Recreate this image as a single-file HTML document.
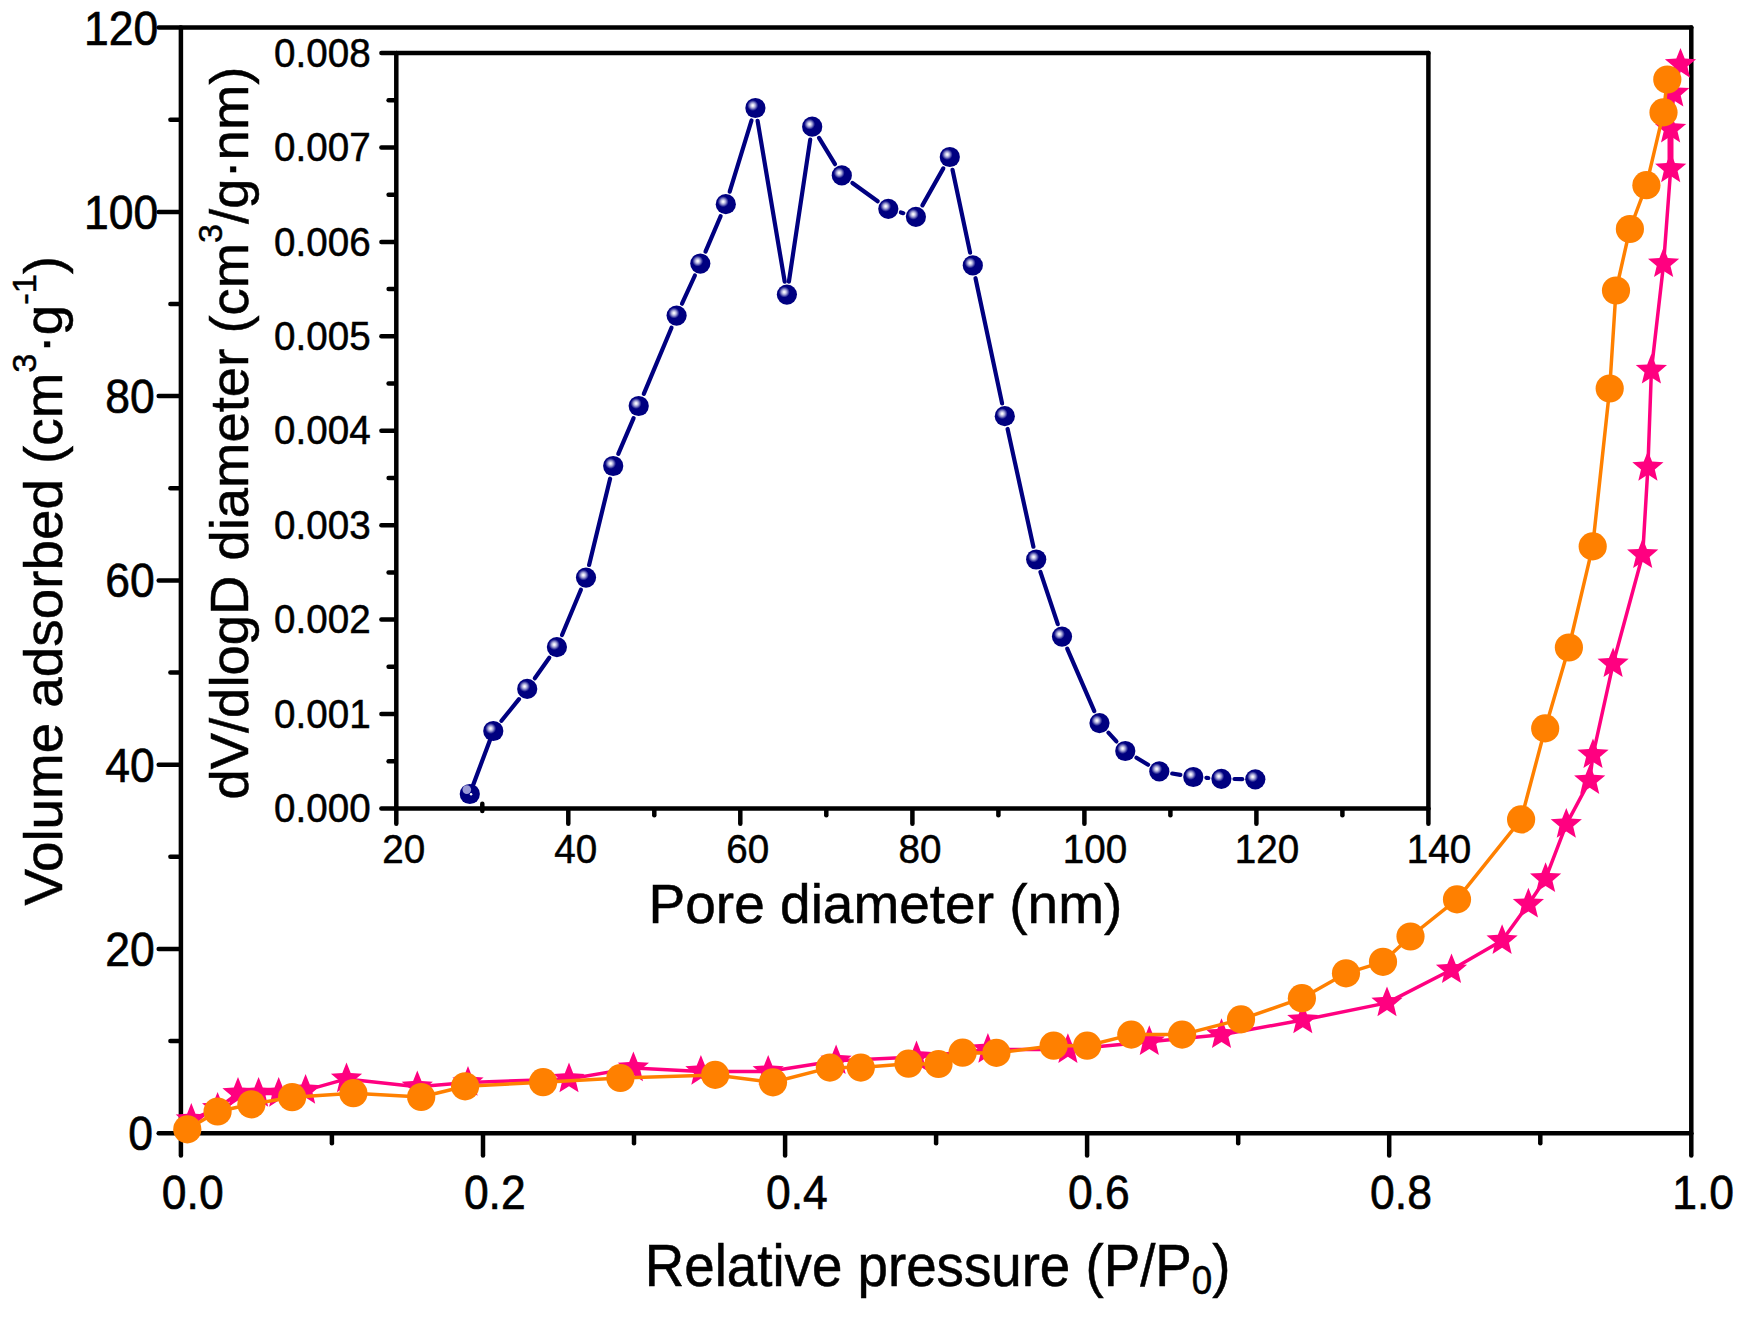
<!DOCTYPE html>
<html><head><meta charset="utf-8"><title>Isotherm</title>
<style>html,body{margin:0;padding:0;background:#fff}svg{display:block}text{font-family:"Liberation Sans",sans-serif;fill:#000}</style></head><body>
<svg width="1746" height="1317" viewBox="0 0 1746 1317">
<defs><radialGradient id="sp" cx="0.37" cy="0.375" r="0.27" fx="0.37" fy="0.375"><stop offset="0" stop-color="#ffffff"/><stop offset="0.18" stop-color="#ececf8"/><stop offset="0.5" stop-color="#9c9cd2"/><stop offset="0.8" stop-color="#3a3aa0"/><stop offset="1" stop-color="#000080"/></radialGradient></defs>
<rect width="1746" height="1317" fill="#fff"/>
<g stroke="#000" fill="none" stroke-linecap="round">
<line x1="180.9" y1="27.6" x2="1691.3" y2="27.6" stroke-width="4.5"/>
<line x1="180.9" y1="1133.2" x2="1691.3" y2="1133.2" stroke-width="4.5"/>
<line x1="180.9" y1="27.6" x2="180.9" y2="1133.2" stroke-width="4.5"/>
<line x1="1691.3" y1="27.6" x2="1691.3" y2="1133.2" stroke-width="4.5"/>
<line x1="180.9" y1="1134.4" x2="180.9" y2="1155.4" stroke-width="4.5"/>
<line x1="331.9" y1="1134.4" x2="331.9" y2="1143.2" stroke-width="4.5"/>
<line x1="483.0" y1="1134.4" x2="483.0" y2="1155.4" stroke-width="4.5"/>
<line x1="634.0" y1="1134.4" x2="634.0" y2="1143.2" stroke-width="4.5"/>
<line x1="785.1" y1="1134.4" x2="785.1" y2="1155.4" stroke-width="4.5"/>
<line x1="936.1" y1="1134.4" x2="936.1" y2="1143.2" stroke-width="4.5"/>
<line x1="1087.1" y1="1134.4" x2="1087.1" y2="1155.4" stroke-width="4.5"/>
<line x1="1238.2" y1="1134.4" x2="1238.2" y2="1143.2" stroke-width="4.5"/>
<line x1="1389.2" y1="1134.4" x2="1389.2" y2="1155.4" stroke-width="4.5"/>
<line x1="1540.3" y1="1134.4" x2="1540.3" y2="1143.2" stroke-width="4.5"/>
<line x1="1691.3" y1="1134.4" x2="1691.3" y2="1155.4" stroke-width="4.5"/>
<line x1="179.7" y1="1133.2" x2="158.7" y2="1133.2" stroke-width="4.5"/>
<line x1="179.7" y1="1041.1" x2="170.4" y2="1041.1" stroke-width="4.5"/>
<line x1="179.7" y1="948.9" x2="158.7" y2="948.9" stroke-width="4.5"/>
<line x1="179.7" y1="856.8" x2="170.4" y2="856.8" stroke-width="4.5"/>
<line x1="179.7" y1="764.7" x2="158.7" y2="764.7" stroke-width="4.5"/>
<line x1="179.7" y1="672.5" x2="170.4" y2="672.5" stroke-width="4.5"/>
<line x1="179.7" y1="580.4" x2="158.7" y2="580.4" stroke-width="4.5"/>
<line x1="179.7" y1="488.3" x2="170.4" y2="488.3" stroke-width="4.5"/>
<line x1="179.7" y1="396.1" x2="158.7" y2="396.1" stroke-width="4.5"/>
<line x1="179.7" y1="304.0" x2="170.4" y2="304.0" stroke-width="4.5"/>
<line x1="179.7" y1="211.9" x2="158.7" y2="211.9" stroke-width="4.5"/>
<line x1="179.7" y1="119.7" x2="170.4" y2="119.7" stroke-width="4.5"/>
<line x1="179.7" y1="27.6" x2="158.7" y2="27.6" stroke-width="4.5"/>
<line x1="396.3" y1="53.0" x2="1428.4" y2="53.0" stroke-width="4.5"/>
<line x1="396.3" y1="808.5" x2="1428.4" y2="808.5" stroke-width="4.5"/>
<line x1="396.3" y1="53.0" x2="396.3" y2="808.5" stroke-width="4.5"/>
<line x1="1428.4" y1="53.0" x2="1428.4" y2="808.5" stroke-width="4.5"/>
<line x1="396.3" y1="809.7" x2="396.3" y2="823.7" stroke-width="4.5"/>
<line x1="482.3" y1="803.8" x2="482.3" y2="811.0" stroke-width="4.5"/>
<line x1="568.3" y1="809.7" x2="568.3" y2="823.7" stroke-width="4.5"/>
<line x1="654.3" y1="809.7" x2="654.3" y2="815.3" stroke-width="4.5"/>
<line x1="740.3" y1="809.7" x2="740.3" y2="823.7" stroke-width="4.5"/>
<line x1="826.3" y1="809.7" x2="826.3" y2="815.3" stroke-width="4.5"/>
<line x1="912.4" y1="809.7" x2="912.4" y2="823.7" stroke-width="4.5"/>
<line x1="998.4" y1="809.7" x2="998.4" y2="815.3" stroke-width="4.5"/>
<line x1="1084.4" y1="809.7" x2="1084.4" y2="823.7" stroke-width="4.5"/>
<line x1="1170.4" y1="809.7" x2="1170.4" y2="815.3" stroke-width="4.5"/>
<line x1="1256.4" y1="809.7" x2="1256.4" y2="823.7" stroke-width="4.5"/>
<line x1="1342.4" y1="809.7" x2="1342.4" y2="815.3" stroke-width="4.5"/>
<line x1="1428.4" y1="809.7" x2="1428.4" y2="823.7" stroke-width="4.5"/>
<line x1="395.1" y1="808.5" x2="381.4" y2="808.5" stroke-width="4.5"/>
<line x1="395.1" y1="761.3" x2="388.6" y2="761.3" stroke-width="4.5"/>
<line x1="395.1" y1="714.1" x2="381.4" y2="714.1" stroke-width="4.5"/>
<line x1="395.1" y1="666.8" x2="388.6" y2="666.8" stroke-width="4.5"/>
<line x1="395.1" y1="619.6" x2="381.4" y2="619.6" stroke-width="4.5"/>
<line x1="395.1" y1="572.4" x2="388.6" y2="572.4" stroke-width="4.5"/>
<line x1="395.1" y1="525.2" x2="381.4" y2="525.2" stroke-width="4.5"/>
<line x1="395.1" y1="478.0" x2="388.6" y2="478.0" stroke-width="4.5"/>
<line x1="395.1" y1="430.8" x2="381.4" y2="430.8" stroke-width="4.5"/>
<line x1="395.1" y1="383.5" x2="388.6" y2="383.5" stroke-width="4.5"/>
<line x1="395.1" y1="336.3" x2="381.4" y2="336.3" stroke-width="4.5"/>
<line x1="395.1" y1="289.1" x2="388.6" y2="289.1" stroke-width="4.5"/>
<line x1="395.1" y1="241.9" x2="381.4" y2="241.9" stroke-width="4.5"/>
<line x1="395.1" y1="194.7" x2="388.6" y2="194.7" stroke-width="4.5"/>
<line x1="395.1" y1="147.4" x2="381.4" y2="147.4" stroke-width="4.5"/>
<line x1="395.1" y1="100.2" x2="388.6" y2="100.2" stroke-width="4.5"/>
<line x1="395.1" y1="53.0" x2="381.4" y2="53.0" stroke-width="4.5"/>
</g>
<g font-size="44.5" stroke="#000" stroke-width="0.6">
<text transform="translate(192.7,1209.0) scale(1.0,1.065)" text-anchor="middle">0.0</text>
<text transform="translate(494.8,1209.0) scale(1.0,1.065)" text-anchor="middle">0.2</text>
<text transform="translate(796.9,1209.0) scale(1.0,1.065)" text-anchor="middle">0.4</text>
<text transform="translate(1098.9,1209.0) scale(1.0,1.065)" text-anchor="middle">0.6</text>
<text transform="translate(1401.0,1209.0) scale(1.0,1.065)" text-anchor="middle">0.8</text>
<text transform="translate(1703.1,1209.0) scale(1.0,1.065)" text-anchor="middle">1.0</text>
<text transform="translate(128.2,1150.1) scale(1.0,1.065)" text-anchor="start">0</text>
<text transform="translate(105.3,965.8) scale(1.0,1.065)" text-anchor="start">20</text>
<text transform="translate(105.3,781.6) scale(1.0,1.065)" text-anchor="start">40</text>
<text transform="translate(105.3,597.3) scale(1.0,1.065)" text-anchor="start">60</text>
<text transform="translate(105.3,413.0) scale(1.0,1.065)" text-anchor="start">80</text>
<text transform="translate(83.9,228.8) scale(1.0,1.065)" text-anchor="start">100</text>
<text transform="translate(83.9,44.5) scale(1.0,1.065)" text-anchor="start">120</text>
</g>
<g font-size="38.6" stroke="#000" stroke-width="0.5">
<text transform="translate(403.8,863.0) scale(1.0,1.04)" text-anchor="middle">20</text>
<text transform="translate(575.8,863.0) scale(1.0,1.04)" text-anchor="middle">40</text>
<text transform="translate(747.8,863.0) scale(1.0,1.04)" text-anchor="middle">60</text>
<text transform="translate(919.9,863.0) scale(1.0,1.04)" text-anchor="middle">80</text>
<text transform="translate(1094.9,863.0) scale(1.0,1.04)" text-anchor="middle">100</text>
<text transform="translate(1266.9,863.0) scale(1.0,1.04)" text-anchor="middle">120</text>
<text transform="translate(1438.9,863.0) scale(1.0,1.04)" text-anchor="middle">140</text>
<text transform="translate(370.6,822.2) scale(1.0,1.04)" text-anchor="end">0.000</text>
<text transform="translate(370.6,727.8) scale(1.0,1.04)" text-anchor="end">0.001</text>
<text transform="translate(370.6,633.3) scale(1.0,1.04)" text-anchor="end">0.002</text>
<text transform="translate(370.6,538.9) scale(1.0,1.04)" text-anchor="end">0.003</text>
<text transform="translate(370.6,444.4) scale(1.0,1.04)" text-anchor="end">0.004</text>
<text transform="translate(370.6,350.0) scale(1.0,1.04)" text-anchor="end">0.005</text>
<text transform="translate(370.6,255.6) scale(1.0,1.04)" text-anchor="end">0.006</text>
<text transform="translate(370.6,161.1) scale(1.0,1.04)" text-anchor="end">0.007</text>
<text transform="translate(370.6,66.7) scale(1.0,1.04)" text-anchor="end">0.008</text>
</g>
<g font-size="55" stroke="#000" stroke-width="0.5">
<text transform="translate(644.8,1286.2) scale(0.9945,1.08)" text-anchor="start">Relative pressure (P/P<tspan font-size="37" dy="7.6">0</tspan><tspan dy="-7.6">)</tspan></text>
<text transform="translate(648.6,923.0) scale(1.0,1.02)" text-anchor="start">Pore diameter (nm)</text>
<text transform="translate(61.5,905.6) rotate(-90) scale(0.9965,0.975)" text-anchor="start">Volume adsorbed (cm<tspan font-size="34.5" dy="-26">3</tspan><tspan dy="26">·g</tspan><tspan font-size="34.5" dy="-26">-1</tspan><tspan dy="26">)</tspan></text>
<text transform="translate(247.7,799.6) rotate(-90) scale(0.99,0.97)" text-anchor="start">dV/dlogD diameter (cm<tspan font-size="34.5" dy="-26">3</tspan><tspan dy="26">/g·nm)</tspan></text>
</g>
<polyline points="191.3,1119.5 217.6,1108.4 238.0,1093.4 258.6,1093.4 278.7,1093.4 305.6,1090.4 346.5,1078.9 417.3,1086.8 468.0,1082.5 569.0,1079.0 633.4,1067.9 700.9,1071.4 768.2,1071.4 836.1,1060.8 916.5,1057.0 987.9,1049.5 1067.9,1049.6 1149.3,1041.7 1221.5,1034.7 1302.8,1020.0 1387.0,1002.9 1451.5,969.8 1502.1,940.6 1528.4,904.2 1545.6,878.7 1566.3,824.4 1589.7,780.6 1593.0,754.8 1613.1,663.8 1642.7,554.7 1647.9,467.4 1651.4,370.2 1663.6,263.8 1670.7,168.9 1670.6,129.1 1673.8,93.2 1680.5,64.4" fill="none" stroke="#FF0080" stroke-width="3.5" stroke-linejoin="round"/>
<line x1="1670.5" y1="136" x2="1670.5" y2="164" stroke="#FF0080" stroke-width="6"/>
<g fill="#FF0080">
<polygon points="191.3,1103.1 195.5,1113.7 206.9,1114.4 198.2,1121.7 200.9,1132.8 191.3,1126.7 181.7,1132.8 184.4,1121.7 175.7,1114.4 187.1,1113.7"/>
<polygon points="217.6,1092.0 221.8,1102.6 233.2,1103.3 224.5,1110.6 227.2,1121.7 217.6,1115.6 208.0,1121.7 210.7,1110.6 202.0,1103.3 213.4,1102.6"/>
<polygon points="238.0,1077.0 242.2,1087.6 253.6,1088.3 244.9,1095.6 247.6,1106.7 238.0,1100.6 228.4,1106.7 231.1,1095.6 222.4,1088.3 233.8,1087.6"/>
<polygon points="258.6,1077.0 262.8,1087.6 274.2,1088.3 265.5,1095.6 268.2,1106.7 258.6,1100.6 249.0,1106.7 251.7,1095.6 243.0,1088.3 254.4,1087.6"/>
<polygon points="278.7,1077.0 282.9,1087.6 294.3,1088.3 285.6,1095.6 288.3,1106.7 278.7,1100.6 269.1,1106.7 271.8,1095.6 263.1,1088.3 274.5,1087.6"/>
<polygon points="305.6,1074.0 309.8,1084.6 321.2,1085.3 312.5,1092.6 315.2,1103.7 305.6,1097.6 296.0,1103.7 298.7,1092.6 290.0,1085.3 301.4,1084.6"/>
<polygon points="346.5,1062.5 350.7,1073.1 362.1,1073.8 353.4,1081.1 356.1,1092.2 346.5,1086.1 336.9,1092.2 339.6,1081.1 330.9,1073.8 342.3,1073.1"/>
<polygon points="417.3,1070.4 421.5,1081.0 432.9,1081.7 424.2,1089.0 426.9,1100.1 417.3,1094.0 407.7,1100.1 410.4,1089.0 401.7,1081.7 413.1,1081.0"/>
<polygon points="468.0,1066.1 472.2,1076.7 483.6,1077.4 474.9,1084.7 477.6,1095.8 468.0,1089.7 458.4,1095.8 461.1,1084.7 452.4,1077.4 463.8,1076.7"/>
<polygon points="569.0,1062.6 573.2,1073.2 584.6,1073.9 575.9,1081.2 578.6,1092.3 569.0,1086.2 559.4,1092.3 562.1,1081.2 553.4,1073.9 564.8,1073.2"/>
<polygon points="633.4,1051.5 637.6,1062.1 649.0,1062.8 640.3,1070.1 643.0,1081.2 633.4,1075.1 623.8,1081.2 626.5,1070.1 617.8,1062.8 629.2,1062.1"/>
<polygon points="700.9,1055.0 705.1,1065.6 716.5,1066.3 707.8,1073.6 710.5,1084.7 700.9,1078.6 691.3,1084.7 694.0,1073.6 685.3,1066.3 696.7,1065.6"/>
<polygon points="768.2,1055.0 772.4,1065.6 783.8,1066.3 775.1,1073.6 777.8,1084.7 768.2,1078.6 758.6,1084.7 761.3,1073.6 752.6,1066.3 764.0,1065.6"/>
<polygon points="836.1,1044.4 840.3,1055.0 851.7,1055.7 843.0,1063.0 845.7,1074.1 836.1,1068.0 826.5,1074.1 829.2,1063.0 820.5,1055.7 831.9,1055.0"/>
<polygon points="916.5,1040.6 920.7,1051.2 932.1,1051.9 923.4,1059.2 926.1,1070.3 916.5,1064.2 906.9,1070.3 909.6,1059.2 900.9,1051.9 912.3,1051.2"/>
<polygon points="987.9,1033.1 992.1,1043.7 1003.5,1044.4 994.8,1051.7 997.5,1062.8 987.9,1056.7 978.3,1062.8 981.0,1051.7 972.3,1044.4 983.7,1043.7"/>
<polygon points="1067.9,1033.2 1072.1,1043.8 1083.5,1044.5 1074.8,1051.8 1077.5,1062.9 1067.9,1056.8 1058.3,1062.9 1061.0,1051.8 1052.3,1044.5 1063.7,1043.8"/>
<polygon points="1149.3,1025.3 1153.5,1035.9 1164.9,1036.6 1156.2,1043.9 1158.9,1055.0 1149.3,1048.9 1139.7,1055.0 1142.4,1043.9 1133.7,1036.6 1145.1,1035.9"/>
<polygon points="1221.5,1018.3 1225.7,1028.9 1237.1,1029.6 1228.4,1036.9 1231.1,1048.0 1221.5,1041.9 1211.9,1048.0 1214.6,1036.9 1205.9,1029.6 1217.3,1028.9"/>
<polygon points="1302.8,1003.6 1307.0,1014.2 1318.4,1014.9 1309.7,1022.2 1312.4,1033.3 1302.8,1027.2 1293.2,1033.3 1295.9,1022.2 1287.2,1014.9 1298.6,1014.2"/>
<polygon points="1387.0,986.5 1391.2,997.1 1402.6,997.8 1393.9,1005.1 1396.6,1016.2 1387.0,1010.1 1377.4,1016.2 1380.1,1005.1 1371.4,997.8 1382.8,997.1"/>
<polygon points="1451.5,953.4 1455.7,964.0 1467.1,964.7 1458.4,972.0 1461.1,983.1 1451.5,977.0 1441.9,983.1 1444.6,972.0 1435.9,964.7 1447.3,964.0"/>
<polygon points="1502.1,924.2 1506.3,934.8 1517.7,935.5 1509.0,942.8 1511.7,953.9 1502.1,947.8 1492.5,953.9 1495.2,942.8 1486.5,935.5 1497.9,934.8"/>
<polygon points="1528.4,887.8 1532.6,898.4 1544.0,899.1 1535.3,906.4 1538.0,917.5 1528.4,911.4 1518.8,917.5 1521.5,906.4 1512.8,899.1 1524.2,898.4"/>
<polygon points="1545.6,862.3 1549.8,872.9 1561.2,873.6 1552.5,880.9 1555.2,892.0 1545.6,885.9 1536.0,892.0 1538.7,880.9 1530.0,873.6 1541.4,872.9"/>
<polygon points="1566.3,808.0 1570.5,818.6 1581.9,819.3 1573.2,826.6 1575.9,837.7 1566.3,831.6 1556.7,837.7 1559.4,826.6 1550.7,819.3 1562.1,818.6"/>
<polygon points="1589.7,764.2 1593.9,774.8 1605.3,775.5 1596.6,782.8 1599.3,793.9 1589.7,787.8 1580.1,793.9 1582.8,782.8 1574.1,775.5 1585.5,774.8"/>
<polygon points="1593.0,738.4 1597.2,749.0 1608.6,749.7 1599.9,757.0 1602.6,768.1 1593.0,762.0 1583.4,768.1 1586.1,757.0 1577.4,749.7 1588.8,749.0"/>
<polygon points="1613.1,647.4 1617.3,658.0 1628.7,658.7 1620.0,666.0 1622.7,677.1 1613.1,671.0 1603.5,677.1 1606.2,666.0 1597.5,658.7 1608.9,658.0"/>
<polygon points="1642.7,538.3 1646.9,548.9 1658.3,549.6 1649.6,556.9 1652.3,568.0 1642.7,561.9 1633.1,568.0 1635.8,556.9 1627.1,549.6 1638.5,548.9"/>
<polygon points="1647.9,451.0 1652.1,461.6 1663.5,462.3 1654.8,469.6 1657.5,480.7 1647.9,474.6 1638.3,480.7 1641.0,469.6 1632.3,462.3 1643.7,461.6"/>
<polygon points="1651.4,353.8 1655.6,364.4 1667.0,365.1 1658.3,372.4 1661.0,383.5 1651.4,377.4 1641.8,383.5 1644.5,372.4 1635.8,365.1 1647.2,364.4"/>
<polygon points="1663.6,247.4 1667.8,258.0 1679.2,258.7 1670.5,266.0 1673.2,277.1 1663.6,271.0 1654.0,277.1 1656.7,266.0 1648.0,258.7 1659.4,258.0"/>
<polygon points="1670.7,152.5 1674.9,163.1 1686.3,163.8 1677.6,171.1 1680.3,182.2 1670.7,176.1 1661.1,182.2 1663.8,171.1 1655.1,163.8 1666.5,163.1"/>
<polygon points="1670.6,112.7 1674.8,123.3 1686.2,124.0 1677.5,131.3 1680.2,142.4 1670.6,136.3 1661.0,142.4 1663.7,131.3 1655.0,124.0 1666.4,123.3"/>
<polygon points="1673.8,76.8 1678.0,87.4 1689.4,88.1 1680.7,95.4 1683.4,106.5 1673.8,100.4 1664.2,106.5 1666.9,95.4 1658.2,88.1 1669.6,87.4"/>
<polygon points="1680.5,48.0 1684.7,58.6 1696.1,59.3 1687.4,66.6 1690.1,77.7 1680.5,71.6 1670.9,77.7 1673.6,66.6 1664.9,59.3 1676.3,58.6"/>
</g>
<polyline points="187.3,1129.3 217.6,1111.5 251.4,1104.3 292.1,1097.2 353.4,1093.2 421.2,1097.0 465.1,1086.3 543.1,1082.2 620.4,1078.0 715.2,1074.9 773.0,1082.3 829.9,1067.6 860.8,1067.6 908.5,1063.7 938.5,1064.0 962.6,1052.7 996.4,1052.9 1053.6,1045.7 1087.2,1045.7 1131.3,1034.6 1182.1,1034.6 1241.0,1019.4 1301.9,998.2 1346.0,973.3 1383.0,961.8 1410.5,936.5 1457.0,899.4 1521.1,819.4 1545.2,728.4 1568.9,647.5 1592.7,546.4 1609.7,388.5 1616.0,290.5 1629.9,229.0 1646.4,185.2 1663.5,112.4 1667.3,79.5" fill="none" stroke="#FF8000" stroke-width="3.5" stroke-linejoin="round"/>
<g fill="#FF8000">
<circle cx="187.3" cy="1129.3" r="14.1"/>
<circle cx="217.6" cy="1111.5" r="14.1"/>
<circle cx="251.4" cy="1104.3" r="14.1"/>
<circle cx="292.1" cy="1097.2" r="14.1"/>
<circle cx="353.4" cy="1093.2" r="14.1"/>
<circle cx="421.2" cy="1097.0" r="14.1"/>
<circle cx="465.1" cy="1086.3" r="14.1"/>
<circle cx="543.1" cy="1082.2" r="14.1"/>
<circle cx="620.4" cy="1078.0" r="14.1"/>
<circle cx="715.2" cy="1074.9" r="14.1"/>
<circle cx="773.0" cy="1082.3" r="14.1"/>
<circle cx="829.9" cy="1067.6" r="14.1"/>
<circle cx="860.8" cy="1067.6" r="14.1"/>
<circle cx="908.5" cy="1063.7" r="14.1"/>
<circle cx="938.5" cy="1064.0" r="14.1"/>
<circle cx="962.6" cy="1052.7" r="14.1"/>
<circle cx="996.4" cy="1052.9" r="14.1"/>
<circle cx="1053.6" cy="1045.7" r="14.1"/>
<circle cx="1087.2" cy="1045.7" r="14.1"/>
<circle cx="1131.3" cy="1034.6" r="14.1"/>
<circle cx="1182.1" cy="1034.6" r="14.1"/>
<circle cx="1241.0" cy="1019.4" r="14.1"/>
<circle cx="1301.9" cy="998.2" r="14.1"/>
<circle cx="1346.0" cy="973.3" r="14.1"/>
<circle cx="1383.0" cy="961.8" r="14.1"/>
<circle cx="1410.5" cy="936.5" r="14.1"/>
<circle cx="1457.0" cy="899.4" r="14.1"/>
<circle cx="1521.1" cy="819.4" r="14.1"/>
<circle cx="1545.2" cy="728.4" r="14.1"/>
<circle cx="1568.9" cy="647.5" r="14.1"/>
<circle cx="1592.7" cy="546.4" r="14.1"/>
<circle cx="1609.7" cy="388.5" r="14.1"/>
<circle cx="1616.0" cy="290.5" r="14.1"/>
<circle cx="1629.9" cy="229.0" r="14.1"/>
<circle cx="1646.4" cy="185.2" r="14.1"/>
<circle cx="1663.5" cy="112.4" r="14.1"/>
<circle cx="1667.3" cy="79.5" r="14.1"/>
</g>
<g stroke="#000080" stroke-width="4.2" stroke-linecap="round">
<line x1="472.6" y1="786.5" x2="490.2" y2="739.4"/>
<line x1="501.5" y1="720.8" x2="519.0" y2="699.1"/>
<line x1="534.8" y1="678.2" x2="549.3" y2="657.8"/>
<line x1="562.0" y1="635.0" x2="580.9" y2="589.7"/>
<line x1="589.1" y1="564.9" x2="610.1" y2="478.7"/>
<line x1="618.3" y1="453.9" x2="633.6" y2="418.1"/>
<line x1="643.8" y1="393.9" x2="671.5" y2="327.7"/>
<line x1="682.0" y1="303.7" x2="694.9" y2="275.5"/>
<line x1="705.5" y1="251.6" x2="720.6" y2="216.2"/>
<line x1="729.7" y1="191.7" x2="751.5" y2="120.5"/>
<line x1="757.6" y1="120.9" x2="784.7" y2="281.7"/>
<line x1="788.9" y1="281.6" x2="810.2" y2="139.7"/>
<line x1="819.0" y1="137.9" x2="835.0" y2="164.2"/>
<line x1="852.4" y1="183.0" x2="877.7" y2="201.2"/>
<line x1="900.9" y1="212.4" x2="903.3" y2="213.2"/>
<line x1="922.4" y1="205.4" x2="943.3" y2="168.4"/>
<line x1="952.5" y1="169.8" x2="970.1" y2="252.6"/>
<line x1="975.5" y1="278.2" x2="1002.1" y2="403.4"/>
<line x1="1007.6" y1="429.0" x2="1033.4" y2="546.7"/>
<line x1="1040.4" y1="571.9" x2="1057.8" y2="624.2"/>
<line x1="1067.2" y1="648.6" x2="1094.3" y2="711.1"/>
<line x1="1108.4" y1="732.7" x2="1116.4" y2="741.4"/>
<line x1="1136.5" y1="757.7" x2="1148.1" y2="764.7"/>
<line x1="1172.2" y1="773.5" x2="1180.4" y2="774.9"/>
<line x1="1206.4" y1="777.8" x2="1208.3" y2="778.0"/>
<line x1="1234.5" y1="779.0" x2="1242.2" y2="779.1"/>
</g>
<g fill="url(#sp)">
<circle cx="469.8" cy="794.0" r="10.1" fill="#000080"/>
<circle cx="466.8" cy="789.6" r="4.3" fill="#9a9ad6"/>
<circle cx="471.1" cy="794.2" r="1.2" fill="#ffffff"/>
<circle cx="493.3" cy="731.0" r="10.1"/>
<circle cx="527.2" cy="688.9" r="10.1"/>
<circle cx="556.9" cy="647.1" r="10.1"/>
<circle cx="586.0" cy="577.6" r="10.1"/>
<circle cx="613.2" cy="466.0" r="10.1"/>
<circle cx="638.7" cy="406.0" r="10.1"/>
<circle cx="676.6" cy="315.6" r="10.1"/>
<circle cx="700.3" cy="263.6" r="10.1"/>
<circle cx="725.8" cy="204.2" r="10.1"/>
<circle cx="755.4" cy="108.0" r="10.1"/>
<circle cx="786.9" cy="294.6" r="10.1"/>
<circle cx="812.2" cy="126.7" r="10.1"/>
<circle cx="841.8" cy="175.4" r="10.1"/>
<circle cx="888.3" cy="208.8" r="10.1"/>
<circle cx="915.9" cy="216.8" r="10.1"/>
<circle cx="949.8" cy="157.0" r="10.1"/>
<circle cx="972.8" cy="265.4" r="10.1"/>
<circle cx="1004.8" cy="416.2" r="10.1"/>
<circle cx="1036.2" cy="559.5" r="10.1"/>
<circle cx="1062.0" cy="636.6" r="10.1"/>
<circle cx="1099.5" cy="723.1" r="10.1"/>
<circle cx="1125.3" cy="751.0" r="10.1"/>
<circle cx="1159.3" cy="771.4" r="10.1"/>
<circle cx="1193.3" cy="777.0" r="10.1"/>
<circle cx="1221.4" cy="778.8" r="10.1"/>
<circle cx="1255.3" cy="779.3" r="10.1"/>
</g>
</svg></body></html>
